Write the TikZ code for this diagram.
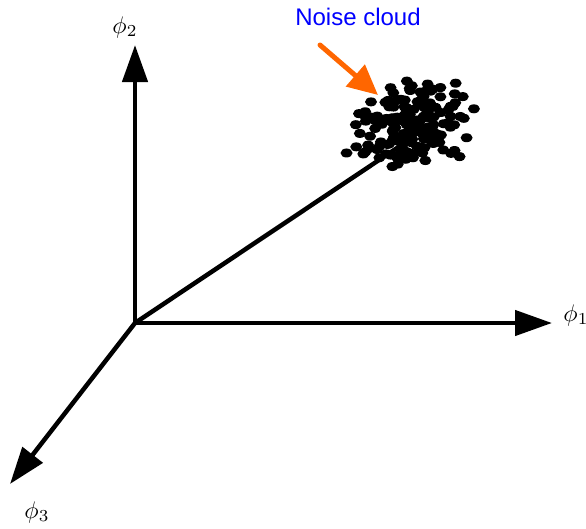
\documentclass[tikz,border=0pt]{standalone}
\usepackage{fontspec}
\setsansfont{Liberation Sans}
\usetikzlibrary{arrows.meta}
\definecolor{noiseorange}{RGB}{255,102,0}
\tikzset{
  axis/.style={line width=4.5pt, -{Triangle[length=37pt,width=25pt]}},
  axlabel/.style={inner sep=0pt},
  dot/.style={fill=black},
}
\newcommand{\biglabel}[1]{\scalebox{2.4}{$#1$}}
\begin{document}
\begin{tikzpicture}[x=1pt,y=-1pt]
\useasboundingbox (0,0) rectangle (586,528);
\coordinate (O) at (135,323);
\coordinate (X1) at (552,323);
\coordinate (X2) at (135,45);
\coordinate (X3) at (10,484);
\coordinate (C) at (400,146);
\draw[axis] (O) -- (X1);
\draw[axis] (O) -- (X2);
\draw[axis] (O) -- (X3);
\draw[line width=4.5pt] (O) -- (C);
\node[axlabel] (L1) at (576,315) {\biglabel{\phi_1}};
\node[axlabel] (L2) at (125,27) {\biglabel{\phi_2}};
\node[axlabel] (L3) at (37,512) {\biglabel{\phi_3}};
% noise cloud dots
\pgfmathsetseed{11}
\foreach \i in {1,...,170}{
  \pgfmathsetmacro{\dx}{33*(rand+rand)}
  \pgfmathsetmacro{\dy}{25*(rand+rand)}
  \fill[dot] ({410+\dx-0.25*\dy},{124+\dy}) ellipse [x radius=6pt, y radius=4.5pt];
}
\node[inner sep=0pt, text=blue, font=\sffamily\fontsize{24}{28}\selectfont] (T) at (358,17) {Noise cloud};
\coordinate (A0) at (320,45);
\coordinate (A1) at (378,95);
\draw[noiseorange, line width=5pt, line cap=round, -{Triangle[length=30pt,width=28pt]}] (A0) -- (A1);
\end{tikzpicture}
\end{document}
